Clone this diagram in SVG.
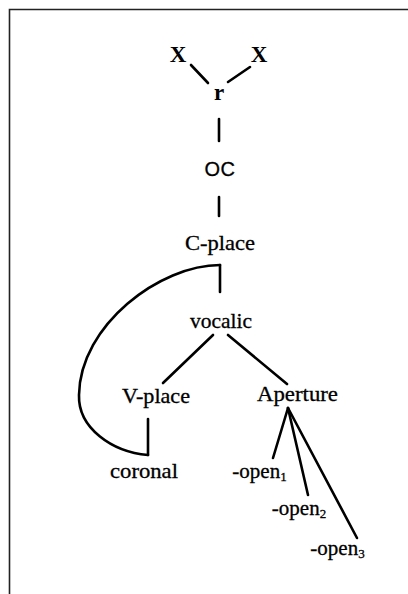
<svg xmlns="http://www.w3.org/2000/svg" width="408" height="594" viewBox="0 0 408 594">
  <style>
    .lbl { font-family: "Liberation Serif", "Times New Roman", serif; font-size: 21px; fill: #000; stroke: #000; stroke-width: 0.3; text-anchor: middle; }
    .sans { font-family: "Liberation Sans", Arial, sans-serif; font-size: 20px; letter-spacing: 0.5px; fill: #000; stroke: #000; stroke-width: 0.3; text-anchor: middle; }
    .big { font-family: "Liberation Serif", "Times New Roman", serif; font-size: 23px; font-weight: bold; fill: #000; text-anchor: middle; }
    .sub { font-size: 13px; }
    .edge { stroke: #000; stroke-width: 2.6; fill: none; stroke-linecap: round; stroke-linejoin: round; }
    .frame { stroke: #222; stroke-width: 1.6; fill: none; }
  </style>
  <rect width="408" height="594" fill="#fff"/>
  <!-- page frame (open to the right and bottom) -->
  <path class="frame" d="M9.5,594 V9.5 H408"/>

  <g id="connectors">
    <line class="edge" x1="191" y1="65" x2="208" y2="83"/>
    <line class="edge" x1="250" y1="67" x2="228" y2="82"/>
    <line class="edge" x1="219" y1="119" x2="219" y2="141"/>
    <line class="edge" x1="219" y1="197" x2="219" y2="216"/>
    <line class="edge" x1="220" y1="265" x2="220" y2="292"/>
    <path class="edge" d="M220,265 C160,265 80,325 79,395 C78,428 112,452 148,455"/>
    <line class="edge" x1="148" y1="455" x2="148" y2="419"/>
    <line class="edge" x1="213" y1="335" x2="163" y2="383"/>
    <line class="edge" x1="228" y1="335" x2="287" y2="384"/>
    <line class="edge" x1="288" y1="408" x2="273" y2="458"/>
    <line class="edge" x1="288" y1="408" x2="308" y2="495"/>
    <line class="edge" x1="288" y1="408" x2="357" y2="538"/>
  </g>

  <g id="x-left"><text class="big" x="178" y="62">X</text></g>
  <g id="x-right"><text class="big" x="259" y="62">X</text></g>
  <g id="r"><text class="big" x="219" y="100">r</text></g>
  <g id="oc"><text class="sans" x="220" y="176">OC</text></g>
  <g id="c-place"><text class="lbl" x="220" y="250" textLength="70" lengthAdjust="spacingAndGlyphs">C-place</text></g>
  <g id="vocalic"><text class="lbl" x="221" y="328" textLength="62" lengthAdjust="spacingAndGlyphs">vocalic</text></g>
  <g id="v-place"><text class="lbl" x="156" y="403" textLength="68" lengthAdjust="spacingAndGlyphs">V-place</text></g>
  <g id="aperture"><text class="lbl" x="297.5" y="401" textLength="81" lengthAdjust="spacingAndGlyphs">Aperture</text></g>
  <g id="coronal"><text class="lbl" x="144" y="478" textLength="68" lengthAdjust="spacingAndGlyphs">coronal</text></g>
  <g id="open1"><text class="lbl" x="259.5" y="478">-open<tspan class="sub" dy="3">1</tspan></text></g>
  <g id="open2"><text class="lbl" x="299" y="515">-open<tspan class="sub" dy="3">2</tspan></text></g>
  <g id="open3"><text class="lbl" x="337.5" y="555">-open<tspan class="sub" dy="3">3</tspan></text></g>
</svg>
